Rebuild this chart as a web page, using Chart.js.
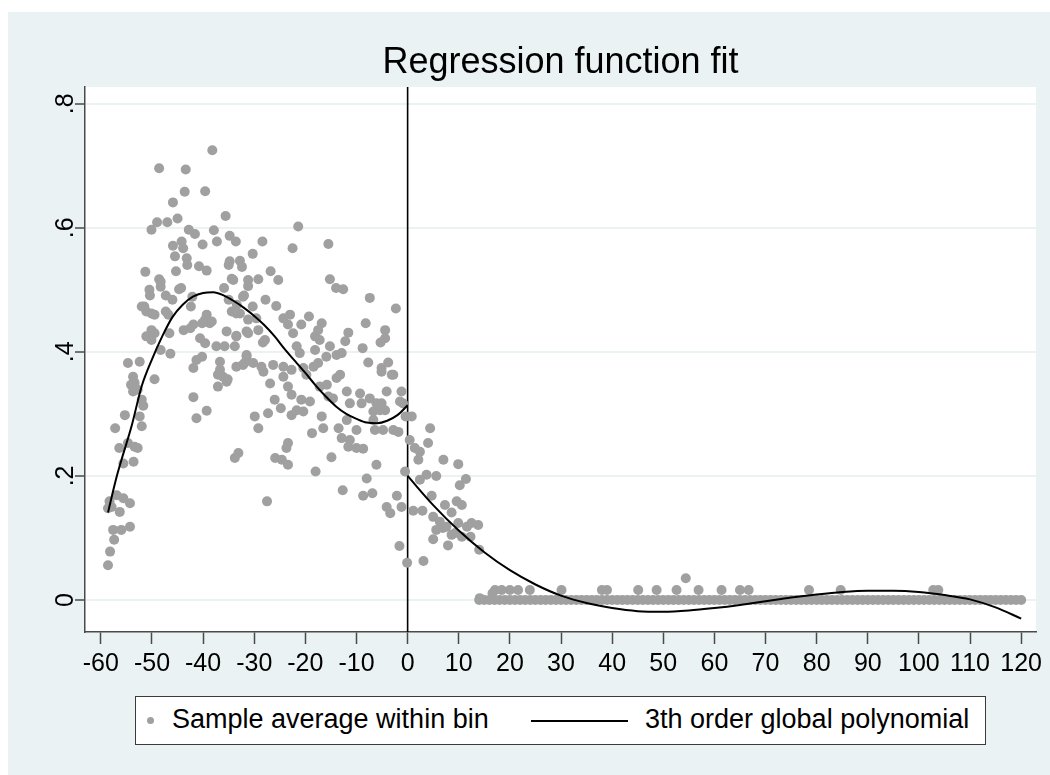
<!DOCTYPE html>
<html>
<head>
<meta charset="utf-8">
<script src="https://cdn.jsdelivr.net/npm/chart.js@4.4.1/dist/chart.umd.min.js"></script>
<style>
  html, body { margin: 0; padding: 0; background: #ffffff; }
  #wrap { position: relative; width: 1050px; height: 775px; overflow: hidden; }
  #outer { position: absolute; left: 8px; top: 12px; right: 0; bottom: 0; background: #EAF2F3; }
  #c { position: absolute; left: 0; top: 0; }
  #title { position: absolute; left: 85px; width: 951px; top: 43px; text-align: center;
           font: 36px 'Liberation Sans', Arial, sans-serif; line-height: 36px; color: #000; white-space: nowrap; }
  #legend { position: absolute; left: 135px; top: 696px; width: 851px; height: 49px; background: #fff;
            border: 1px solid #3a3a3a; box-sizing: border-box; font: 27px 'Liberation Sans', Arial, sans-serif; color: #000; }
  #legend .dot { position: absolute; left: 11px; top: 20px; width: 7px; height: 7px; border-radius: 50%; background: #A0A0A0; }
  #legend .t1 { position: absolute; left: 36px; top: 8px; line-height: 29px; white-space: nowrap; }
  #legend .ln { position: absolute; left: 395px; top: 23px; width: 97px; height: 2px; background: #000; }
  #legend .t2 { position: absolute; left: 509px; top: 8px; line-height: 29px; white-space: nowrap; }
</style>
</head>
<body>
<div id="wrap">
  <div id="outer"></div>
  <canvas id="c" width="1050" height="775"></canvas>
  <div id="title">Regression function fit</div>
  <div id="legend">
    <span class="dot"></span><span class="t1">Sample average within bin</span>
    <span class="ln"></span><span class="t2">3th order global polynomial</span>
  </div>
</div>
<script>
// ---- axis ticks ----
const xTickValues = [-60,-50,-40,-30,-20,-10,0,10,20,30,40,50,60,70,80,90,100,110,120];
const yTickValues = [0, 0.2, 0.4, 0.6, 0.8];
const cutoffX = 0;

// ---- bin averages, left of cutoff ----
const leftBinX = [-38.2,-48.6,-43.4,-43.6,-39.6,-45.9,-35.6,-49.0,-47.0,-45.0,-50.1,-42.8,-41.6,-37.9,-34.8,-33.6,-37.3,-40.1,-45.9,-44.2,-43.9,-45.5,-43.2,-43.1,-51.3,-48.6,-45.3,-40.8,-39.3,-35.0,-32.8,-32.4,-34.4,-50.5,-50.4,-48.3,-47.3,-44.7,-51.5,-50.1,-47.3,-42.4,-35.9,-32.0,-31.2,-35.0,-33.4,-39.3,-38.7,
 -48.3,-46.0,-44.3,-42.1,-52.0,-51.1,-49.5,-46.8,-39.6,-38.3,-40.2,-41.9,-43.8,-42.5,-50.1,-51.1,-49.5,-46.6,-40.6,-39.6,-37.4,-35.8,-35.4,-33.5,-34.4,-32.8,-32.2,-31.2,-31.5,-48.3,-46.4,-54.7,-52.4,-53.7,-53.4,-49.5,-41.3,-41.9,-40.2,-36.7,-36.1,-35.4,-36.7,-31.5,-32.2,-30.2,-37.1,
 -50.1,-54.1,-53.7,-52.8,-52.0,-51.7,-55.3,-52.4,-52.0,-57.2,-56.4,-54.7,-53.4,-52.8,-55.6,-53.6,-56.9,-55.6,-54.3,-57.9,-56.3,-58.3,-58.6,-57.6,-56.0,-54.3,-57.4,-58.2,-58.6,-41.9,-41.3,-39.3,-33.8,-33.1,-33.5,-37.1,-35.2,
 -21.4,-28.4,-22.5,-15.5,-30.3,-34.8,-34.1,-31.2,-29.2,-26.8,-25.3,-15.2,-14.0,-12.6,-7.4,-2.3,-30.3,-27.8,-25.7,-33.5,-29.6,-29.2,-27.9,-24.3,-23.0,-23.4,-20.8,-19.3,-16.8,-17.5,-18.1,-17.2,-22.4,-11.6,-12.2,-8.2,-4.4,-4.4,-5.3,-33.5,-31.2,-28.3,-21.7,-21.1,-18.1,-15.2,-15.9,-13.9,-12.9,-8.8,-7.7,-3.8,-5.1,-3.1,-31.5,-31.9,-28.6,-26.3,-24.3,-22.7,-20.4,-18.4,-17.5,-13.2,-19.8,-33.8,
 -28.2,-26.9,-24.3,-23.4,-22.7,-20.8,-19.1,-21.7,-20.4,-26.0,-24.8,-27.3,-29.9,-29.2,-22.7,-17.2,-15.8,-13.9,-11.9,-14.6,-15.5,-11.3,-9.3,-9.0,-7.4,-6.1,-5.4,-5.1,-4.1,-1.2,-2.8,-5.1,-16.8,-16.5,-18.7,-13.5,-11.9,-10.0,-12.9,-11.3,-11.6,-10.0,-8.7,-6.7,-6.4,-4.8,-2.8,-1.8,-6.7,-4.4,-1.5,-0.4,-25.9,-24.6,-23.4,-23.4,-23.7,-14.9,-18.0,-6.1,-8.0,-12.7,-8.7,-6.9,-2.1,-4.1,-3.4,-1.2,-27.5,-1.6,-0.1,-0.5,-0.9];
const leftBinY = [0.725,0.696,0.694,0.658,0.659,0.641,0.619,0.609,0.609,0.615,0.597,0.597,0.590,0.596,0.587,0.578,0.578,0.573,0.571,0.578,0.567,0.554,0.551,0.540,0.529,0.517,0.530,0.538,0.531,0.540,0.547,0.537,0.518,0.500,0.491,0.505,0.491,0.501,0.473,0.462,0.465,0.473,0.503,0.491,0.506,0.484,0.476,0.460,0.446,
 0.513,0.484,0.503,0.489,0.473,0.465,0.460,0.460,0.452,0.449,0.446,0.444,0.435,0.438,0.435,0.425,0.430,0.430,0.422,0.414,0.409,0.409,0.433,0.425,0.465,0.462,0.489,0.452,0.433,0.403,0.397,0.382,0.384,0.360,0.350,0.356,0.387,0.374,0.392,0.384,0.360,0.352,0.371,0.392,0.379,0.382,0.344,
 0.419,0.347,0.336,0.339,0.323,0.313,0.298,0.296,0.280,0.277,0.245,0.253,0.247,0.245,0.220,0.223,0.169,0.164,0.156,0.150,0.142,0.159,0.148,0.113,0.113,0.118,0.097,0.078,0.056,0.327,0.293,0.305,0.229,0.237,0.376,0.363,0.356,
 0.602,0.578,0.567,0.574,0.558,0.546,0.516,0.516,0.517,0.530,0.516,0.517,0.503,0.501,0.487,0.470,0.473,0.484,0.474,0.462,0.454,0.435,0.419,0.454,0.460,0.444,0.444,0.457,0.446,0.435,0.425,0.419,0.430,0.431,0.417,0.446,0.435,0.422,0.415,0.426,0.430,0.415,0.409,0.398,0.403,0.409,0.392,0.395,0.398,0.406,0.383,0.383,0.374,0.363,0.395,0.382,0.376,0.379,0.376,0.371,0.374,0.376,0.382,0.363,0.363,0.409,
 0.368,0.349,0.360,0.344,0.331,0.323,0.320,0.306,0.304,0.323,0.309,0.301,0.296,0.277,0.298,0.344,0.347,0.358,0.336,0.325,0.328,0.317,0.333,0.317,0.325,0.317,0.306,0.317,0.336,0.336,0.363,0.368,0.296,0.277,0.269,0.277,0.290,0.274,0.261,0.258,0.247,0.245,0.244,0.290,0.274,0.274,0.274,0.271,0.304,0.306,0.320,0.296,0.229,0.226,0.218,0.253,0.245,0.230,0.207,0.218,0.196,0.177,0.168,0.172,0.168,0.150,0.140,0.150,0.159,0.087,0.060,0.207,0.317];

// ---- bin averages, right of cutoff ----
const rightBinX = [0.4,0.8,4.4,4.0,1.4,2.4,2.1,7.0,9.9,3.7,5.6,2.4,11.4,10.2,4.7,1.1,2.9,7.3,8.6,9.6,10.6,5.0,6.3,6.9,7.6,5.6,9.9,11.6,12.5,13.8,10.6,12.3,8.6,9.3,5.0,7.9,14.0,3.1,14.1,16.6,
 17.1,18.4,20.0,21.6,23.9,30.1,38.0,39.0,45.1,48.7,52.6,54.4,56.9,61.4,65.0,66.7,78.5,84.7,102.8,103.8];
const rightBinY = [0.258,0.296,0.277,0.253,0.245,0.239,0.226,0.226,0.219,0.202,0.200,0.194,0.195,0.185,0.168,0.144,0.144,0.153,0.141,0.159,0.153,0.134,0.126,0.116,0.118,0.113,0.124,0.118,0.124,0.121,0.102,0.102,0.105,0.108,0.098,0.088,0.081,0.063,0.003,0.011,
 0.016,0.016,0.016,0.016,0.016,0.016,0.016,0.016,0.016,0.016,0.016,0.035,0.016,0.016,0.016,0.016,0.016,0.016,0.016,0.016];
// bins sitting at zero (x positions)
const zeroBinX = [14,15,16,17,18,19,20,21,22,23,24,25,26,27,28,29,30,31,32,33,34,35,36,37,38,39,40,41,42,43,44,45,46,47,48,49,50,51,52,53,54,55,56,57,58,59,60,61,62,63,64,65,66,67,68,69,70,71,72,73,74,75,76,77,78,79,80,81,82,83,84,85,86,87,88,89,90,91,92,93,94,95,96,97,98,99,100,101,102,103,104,105,106,107,108,109,110,111,112,113,114,115,116,117,118,119,120];
const zeroBinY = 0;

// ---- fitted polynomial ----
const fitLeftX = [-58.6,-57,-56,-54,-52,-50,-48,-46,-44,-42,-40,-38,-36,-34,-32,-30,-28,-26,-24,-22,-20,-18,-16,-14,-12,-10,-8,-6,-4,-2,0];
const fitLeftY = [0.141,0.196,0.225,0.280,0.345,0.388,0.425,0.456,0.476,0.489,0.495,0.496,0.491,0.482,0.471,0.458,0.443,0.425,0.404,0.385,0.366,0.346,0.328,0.312,0.300,0.292,0.286,0.285,0.289,0.298,0.314];
const fitRightX = [0,5,10,15,20,25,30,35,40,45,50,55,60,65,70,75,80,85,90,95,100,105,110,115,120];
const fitRightY = [0.200,0.153,0.112,0.077,0.048,0.025,0.007,-0.005,-0.013,-0.018,-0.019,-0.017,-0.013,-0.008,-0.002,0.004,0.009,0.013,0.015,0.015,0.013,0.008,0.001,-0.012,-0.030];

const xMin = -63.1, xMax = 122.9, yMin = -0.0516, yMax = 0.827;

const pts = (xs, ys) => xs.map((x, i) => ({ x, y: ys[i] }));
const scatterData = pts(leftBinX, leftBinY)
  .concat(pts(rightBinX, rightBinY))
  .concat(zeroBinX.map(x => ({ x, y: zeroBinY })));

const FONT = "'Liberation Sans', Arial, sans-serif";
const AXIS = '#4a4a4a';
const GRID = '#EAF2F3';

const plotPlugin = {
  id: 'plotDeco',
  beforeDraw(chart) {
    const { ctx, chartArea: a } = chart;
    ctx.save();
    ctx.fillStyle = '#ffffff';
    ctx.fillRect(a.left, a.top, a.right - a.left, a.bottom - a.top);
    ctx.restore();
  },
  beforeDatasetsDraw(chart) {
    const { ctx, chartArea: a, scales: { x } } = chart;
    const px = x.getPixelForValue(cutoffX);
    ctx.save();
    ctx.strokeStyle = '#000';
    ctx.lineWidth = 1.6;
    ctx.beginPath();
    ctx.moveTo(px, a.top);
    ctx.lineTo(px, a.bottom);
    ctx.stroke();
    ctx.restore();
  },
  afterDraw(chart) {
    const { ctx, scales: { y } } = chart;
    ctx.save();
    ctx.fillStyle = '#000';
    ctx.font = '25px ' + FONT;
    ctx.textAlign = 'center';
    ctx.textBaseline = 'middle';
    y.ticks.forEach(t => {
      const py = y.getPixelForValue(t.value);
      ctx.save();
      ctx.translate(66, py);
      ctx.rotate(-Math.PI / 2);
      ctx.fillText(t.label, 0, 0);
      ctx.restore();
    });
    ctx.restore();
  }
};

new Chart(document.getElementById('c'), {
  type: 'scatter',
  data: {
    datasets: [
      {
        label: 'Sample average within bin',
        data: scatterData,
        pointRadius: 5,
        pointHoverRadius: 5,
        backgroundColor: '#A0A0A0',
        borderWidth: 0,
        order: 2
      },
      {
        label: '3th order global polynomial',
        data: pts(fitLeftX, fitLeftY),
        showLine: true,
        pointRadius: 0,
        borderColor: '#000',
        borderWidth: 2,
        cubicInterpolationMode: 'monotone',
        order: 1
      },
      {
        label: 'fit right',
        data: pts(fitRightX, fitRightY),
        showLine: true,
        pointRadius: 0,
        borderColor: '#000',
        borderWidth: 2,
        cubicInterpolationMode: 'monotone',
        order: 1
      }
    ]
  },
  options: {
    responsive: false,
    animation: false,
    events: [],
    layout: { padding: { left: 0, right: 14, top: 87, bottom: 0 } },
    plugins: { legend: { display: false }, title: { display: false }, tooltip: { enabled: false } },
    scales: {
      x: {
        type: 'linear', min: xMin, max: xMax,
        afterBuildTicks: s => { s.ticks = xTickValues.map(v => ({ value: v })); },
        afterFit: s => { s.height = 143; },
        border: { display: true, color: AXIS, width: 1.5 },
        grid: { drawOnChartArea: false, drawTicks: true, tickLength: 12, tickColor: AXIS, tickWidth: 1.5 },
        ticks: { color: '#000', font: { family: FONT, size: 25 }, padding: 5, maxRotation: 0, autoSkip: false,
                 callback: v => String(v) }
      },
      y: {
        type: 'linear', min: yMin, max: yMax,
        afterBuildTicks: s => { s.ticks = yTickValues.map(v => ({ value: v })); },
        afterFit: s => { s.width = 85; },
        border: { display: true, color: AXIS, width: 1.5 },
        grid: { drawOnChartArea: true, color: GRID, lineWidth: 2, drawTicks: true, tickLength: 10, tickColor: AXIS, tickWidth: 1.5 },
        ticks: { display: false, callback: v => (v === 0 ? '0' : String(+v.toFixed(1)).replace(/^0/, '')) }
      }
    }
  },
  plugins: [plotPlugin]
});
</script>
</body>
</html>
